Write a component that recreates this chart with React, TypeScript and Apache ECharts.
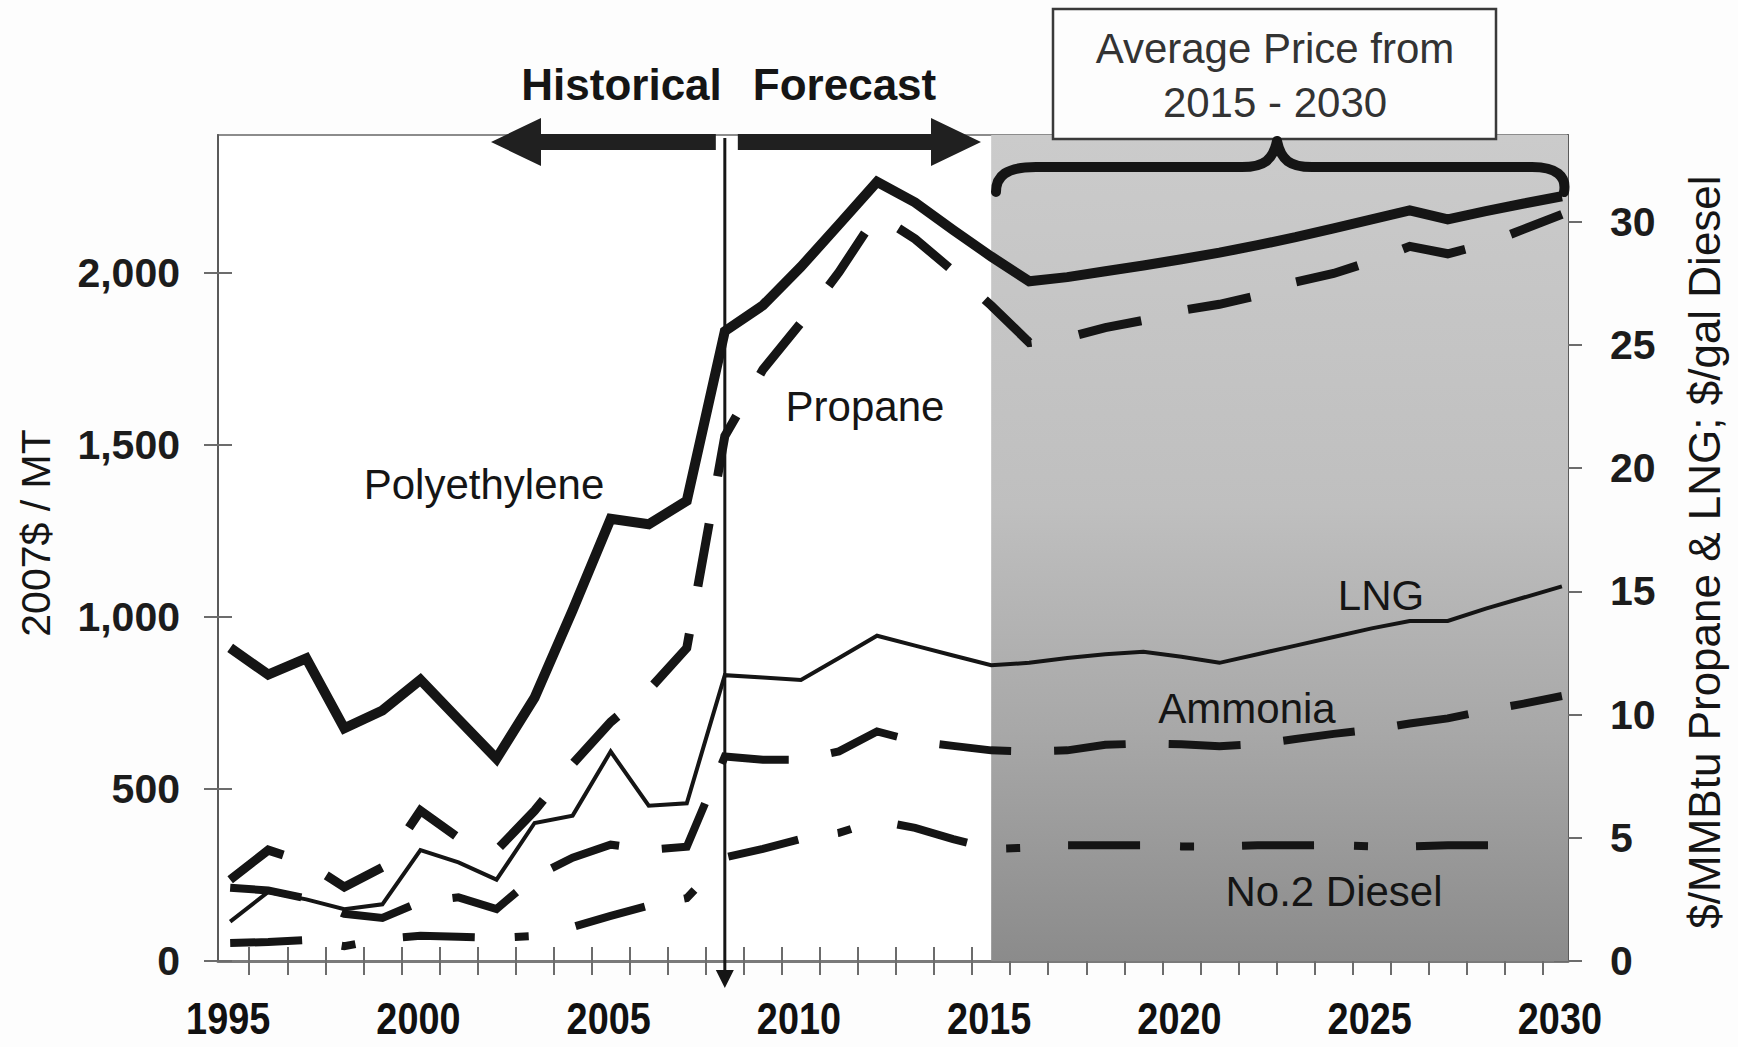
import React, { useEffect, useRef } from "react";
import * as echarts from "echarts";

// ---------- data ----------
const years = [
  1995, 1996, 1997, 1998, 1999, 2000, 2001, 2002, 2003, 2004, 2005, 2006,
  2007, 2008, 2009, 2010, 2011, 2012, 2013, 2014, 2015, 2016, 2017, 2018,
  2019, 2020, 2021, 2022, 2023, 2024, 2025, 2026, 2027, 2028, 2029, 2030,
];

// 2007$ / MT (left axis)
const polyethylene = [
  910, 832, 879, 676, 728, 817, 702, 588, 765, 1019, 1285, 1269,
  1337, 1830, 1905, 2017, 2140, 2264, 2204, 2124, 2047, 1975, 1987, 2004,
  2021, 2039, 2058, 2080, 2103, 2129, 2155, 2181, 2155, 2179, 2201, 2222,
];
const ammonia = [
  213, 205, 182, 137, 125, 172, 185, 151, 245, 300, 338, 323,
  332, 594, 585, 585, 609, 667, 638, 625, 612, 609, 612, 628,
  632, 630, 624, 630, 645, 660, 672, 690, 705, 728, 748, 770,
];

// $/MMBtu (right axis)
const propane = [
  3.3, 4.5, 4.0, 3.0, 3.8, 6.1, 5.0, 4.5, 6.1, 8.0, 9.7, 11.0,
  12.7, 21.3, 24.0, 25.9, 27.95, 30.3, 29.3, 28.0, 26.6, 25.1, 25.3, 25.7,
  26.0, 26.4, 26.65, 27.0, 27.55, 27.9, 28.4, 29.0, 28.7, 29.1, 29.7, 30.3,
];
const lng = [
  1.6, 2.8, 2.5, 2.1, 2.3, 4.5, 4.0, 3.3, 5.6, 5.9, 8.5, 6.3,
  6.4, 11.6, 11.5, 11.4, 12.3, 13.2, 12.8, 12.4, 12.0, 12.1, 12.3, 12.45,
  12.55, 12.35, 12.1, 12.45, 12.8, 13.15, 13.5, 13.8, 13.8, 14.3, 14.75, 15.2,
];
// $/gal (right axis)
const diesel = [
  0.73, 0.77, 0.85, 0.6, 0.9, 1.02, 0.98, 0.94, 1.02, 1.38, 1.83, 2.25,
  2.55, 4.2, 4.55, 4.95, 5.2, 5.7, 5.4, 4.95, 4.55, 4.6, 4.7, 4.7,
  4.7, 4.65, 4.65, 4.7, 4.7, 4.7, 4.65, 4.65, 4.7, 4.7, 4.7, null,
];

const xLabelYears = [1995, 2000, 2005, 2010, 2015, 2020, 2025, 2030];
const leftTicks = [0, 500, 1000, 1500, 2000];
const rightTicks = [0, 5, 10, 15, 20, 25, 30];
const forecastStart = 2015;
const divideYear = 2008;

// ---------- layout / style ----------
const X_MIN = 1994.68;
const X_MAX = 2030.16;
const L_MAX = 2400;
const R_MAX = 33.52;

const BLACK = "#151515";
const SANS = '"Liberation Sans", Arial, Helvetica, sans-serif';

const bracePath =
  "M 996 192 C 996 176 1006 167 1036 167 L 1242 167 C 1264 167 1273 160 1277 141 " +
  "C 1281 160 1290 167 1312 167 L 1532 167 C 1556 167 1567 176 1564 192";
echarts.graphic.registerShape("brace", echarts.graphic.extendPath(bracePath, {}));

function pairs(arr: (number | null)[]) {
  return years
    .map((y, i) => [y, arr[i]])
    .filter((p) => p[1] !== null && p[1] !== undefined);
}

function fmtThousands(v: number) {
  const n = Math.round(v);
  if (n >= 1000) {
    const t = Math.floor(n / 1000);
    const r = String(n % 1000).padStart(3, "0");
    return `${t},${r}`;
  }
  return String(n);
}

function txt(
  text: string,
  x: number,
  y: number,
  size: number,
  opts: Record<string, unknown> = {}
) {
  const { weight, family, color, rotation, align, scaleX } = opts as any;
  return {
    type: "text",
    x,
    y,
    rotation: rotation || 0,
    scaleX: scaleX || 1,
    z: 100,
    style: {
      text,
      fontSize: size,
      fontFamily: family || SANS,
      fontWeight: weight || "normal",
      fill: color || BLACK,
      align: align || "center",
      verticalAlign: "middle",
    },
  };
}

function buildGraphic(xDiv: number, labelXs: number[]) {
  const arrowY = 142;
  return [
    // left (historical) arrow
    {
      type: "polygon",
      z: 90,
      shape: {
        points: [
          [491, arrowY],
          [541, arrowY - 24],
          [541, arrowY - 8],
          [xDiv - 9, arrowY - 8],
          [xDiv - 9, arrowY + 8],
          [541, arrowY + 8],
          [541, arrowY + 24],
        ],
      },
      style: { fill: "#202020" },
    },
    // right (forecast) arrow
    {
      type: "polygon",
      z: 90,
      shape: {
        points: [
          [981, arrowY],
          [931, arrowY - 24],
          [931, arrowY - 8],
          [xDiv + 13, arrowY - 8],
          [xDiv + 13, arrowY + 8],
          [931, arrowY + 8],
          [931, arrowY + 24],
        ],
      },
      style: { fill: "#202020" },
    },
    // vertical divider with arrow head
    {
      type: "line",
      z: 95,
      shape: { x1: xDiv, y1: 138, x2: xDiv, y2: 974 },
      style: { stroke: BLACK, lineWidth: 3 },
    },
    {
      type: "polygon",
      z: 95,
      shape: {
        points: [
          [xDiv - 9, 970],
          [xDiv + 9, 970],
          [xDiv, 988],
        ],
      },
      style: { fill: BLACK },
    },
    txt("Historical", xDiv - 3, 84, 44, { weight: "bold", align: "right" }),
    txt("Forecast", xDiv + 28, 84, 44, { weight: "bold", align: "left" }),
    // box
    {
      type: "rect",
      z: 96,
      shape: { x: 1053, y: 9, width: 443, height: 130 },
      style: { fill: "#fdfdfd", stroke: "#3a3a3a", lineWidth: 2.5 },
    },
    txt("Average Price from", 1275, 48, 42, { color: "#333333" }),
    txt("2015 - 2030", 1275, 102, 42, { color: "#333333" }),
    // brace
    {
      type: "brace",
      z: 97,
      x: 0,
      y: 0,
      style: { stroke: BLACK, lineWidth: 10, fill: "none", lineCap: "round", lineJoin: "round" },
    },
    // series labels
    txt("Polyethylene", 484, 484, 42),
    txt("Propane", 865, 406, 42),
    txt("LNG", 1381, 595, 42),
    txt("Ammonia", 1247, 708, 42),
    txt("No.2 Diesel", 1334, 891, 42),
    // axis titles
    txt("2007$ / MT", 36, 533, 41, { rotation: Math.PI / 2 }),
    txt("$/MMBtu Propane & LNG; $/gal Diesel", 1704, 552, 44, { rotation: Math.PI / 2 }),
    // x-axis year labels (condensed bold, like the original)
    ...xLabelYears.map((y, i) =>
      txt(String(y), labelXs[i] - 2, 1019, 44, { weight: "bold", scaleX: 0.86, color: "#111111" })
    ),
  ];
}

export default function App() {
  const ref = useRef<HTMLDivElement>(null);

  useEffect(() => {
    if (!ref.current) return;
    const chart = echarts.init(ref.current, null, { renderer: "svg" });

    const tickLine = { color: "#6c6c6c", width: 2 };
    const xTicks = years.slice(0, -1).map((y) => y + 0.5);
    const xCommon = {
      type: "value",
      min: X_MIN,
      max: X_MAX,
      splitLine: { show: false },
    };
    const yLabel = {
      fontFamily: SANS,
      fontWeight: "bold",
      fontSize: 41,
      color: "#1c1c1c",
    };

    const line = (
      name: string,
      data: (number | null)[],
      yIdx: number,
      width: number,
      type: any
    ) => ({
      name,
      type: "line",
      yAxisIndex: yIdx,
      xAxisIndex: 0,
      data: pairs(data),
      showSymbol: false,
      symbol: "none",
      z: 5,
      lineStyle: { color: BLACK, width, type, join: "miter", cap: "butt" },
      silent: true,
    });

    const option: any = {
      animation: false,
      backgroundColor: "#fdfdfd",
      grid: {
        left: 218,
        right: 170,
        top: 135,
        bottom: 86,
        show: true,
        borderColor: "#8c8c8c",
        borderWidth: 2,
        backgroundColor: "#ffffff",
        containLabel: false,
        outerBoundsMode: "none",
      },
      xAxis: [
        {
          ...xCommon,
          position: "bottom",
          axisLine: { show: true, onZero: false, lineStyle: { color: "#7a7a7a", width: 3 } },
          axisTick: { show: true, inside: false, length: 14, customValues: xTicks, lineStyle: tickLine },
          axisLabel: { show: false },
        },
        {
          ...xCommon,
          position: "bottom",
          axisLine: { show: false, onZero: false },
          axisTick: { show: true, inside: true, length: 14, customValues: xTicks, lineStyle: tickLine },
          axisLabel: { show: false },
        },
      ],
      yAxis: [
        {
          type: "value",
          position: "left",
          min: 0,
          max: L_MAX,
          splitLine: { show: false },
          axisLine: { show: true, lineStyle: { color: "#5a5a5a", width: 2 } },
          axisTick: { show: true, length: 14, customValues: leftTicks, lineStyle: tickLine },
          axisLabel: { ...yLabel, margin: 38, customValues: leftTicks, formatter: fmtThousands },
        },
        {
          type: "value",
          position: "right",
          min: 0,
          max: R_MAX,
          splitLine: { show: false },
          axisLine: { show: true, lineStyle: { color: "#5a5a5a", width: 2 } },
          axisTick: { show: true, length: 14, customValues: rightTicks, lineStyle: tickLine },
          axisLabel: { ...yLabel, margin: 42, customValues: rightTicks, formatter: (v: number) => String(v) },
        },
        {
          type: "value",
          position: "left",
          min: 0,
          max: L_MAX,
          splitLine: { show: false },
          axisLine: { show: false },
          axisTick: { show: true, inside: true, length: 14, customValues: leftTicks, lineStyle: tickLine },
          axisLabel: { show: false },
        },
        {
          type: "value",
          position: "right",
          min: 0,
          max: R_MAX,
          splitLine: { show: false },
          axisLine: { show: false },
          axisTick: { show: true, inside: true, length: 14, customValues: rightTicks, lineStyle: tickLine },
          axisLabel: { show: false },
        },
      ],
      series: [
        {
          name: "forecast-shade",
          type: "line",
          data: [],
          z: 1,
          silent: true,
          markArea: {
            silent: true,
            itemStyle: {
              color: {
                type: "linear",
                x: 0,
                y: 0,
                x2: 0,
                y2: 1,
                colorStops: [
                  { offset: 0, color: "#cbcbcb" },
                  { offset: 0.45, color: "#bfbfbf" },
                  { offset: 0.72, color: "#a8a8a8" },
                  { offset: 1, color: "#8b8b8b" },
                ],
              },
            },
            data: [[{ xAxis: forecastStart }, { xAxis: X_MAX }]],
          },
        },
        line("Polyethylene", polyethylene, 0, 10, "solid"),
        line("Propane", propane, 1, 9, [64, 48]),
        line("LNG", lng, 1, 4, "solid"),
        line("Ammonia", ammonia, 0, 8, [72, 43]),
        line("No.2 Diesel", diesel, 1, 8, [72, 40, 14, 48]),
      ],
    };

    chart.setOption(option);
    const px = chart.convertToPixel({ xAxisIndex: 0 }, divideYear) as number;
    const labelXs = xLabelYears.map(
      (y) => chart.convertToPixel({ xAxisIndex: 0 }, y) as number
    );
    chart.setOption({ graphic: buildGraphic(px, labelXs) });

    return () => chart.dispose();
  }, []);

  return (
    <div
      ref={ref}
      style={{ position: "fixed", left: 0, top: 0, width: 1738, height: 1047 }}
    />
  );
}
